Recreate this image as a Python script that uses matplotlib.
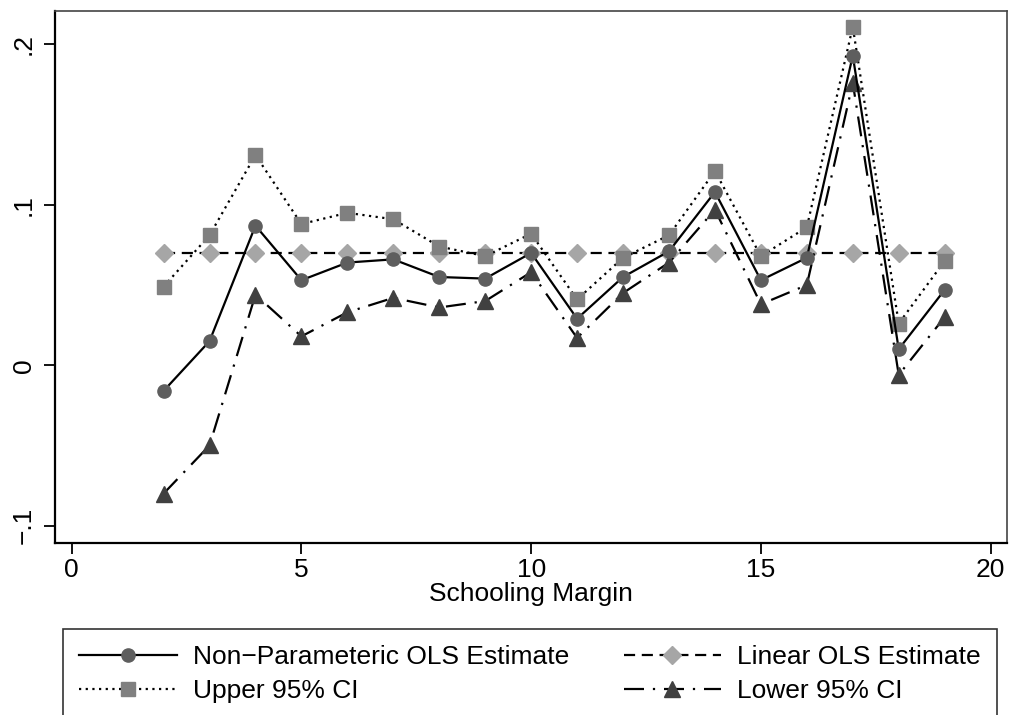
import numpy as np
import matplotlib
matplotlib.use("Agg")
import matplotlib.pyplot as plt

# Data
margin = [2, 3, 4, 5, 6, 7, 8, 9, 10, 11, 12, 13, 14, 15, 16, 17, 18, 19]
nonparam = [-0.016, 0.015, 0.087, 0.053, 0.064, 0.066, 0.055, 0.054, 0.070, 0.029,
            0.055, 0.071, 0.108, 0.053, 0.067, 0.193, 0.010, 0.047]
upper_ci = [0.049, 0.081, 0.131, 0.088, 0.095, 0.091, 0.074, 0.068, 0.082, 0.041,
            0.067, 0.081, 0.121, 0.068, 0.086, 0.211, 0.026, 0.065]
lower_ci = [-0.080, -0.050, 0.044, 0.018, 0.033, 0.042, 0.036, 0.040, 0.058, 0.017,
            0.045, 0.064, 0.097, 0.038, 0.050, 0.176, -0.006, 0.030]
linear = [0.070] * len(margin)

xticks = [0, 5, 10, 15, 20]
yticks = [-0.1, 0, 0.1, 0.2]
yticklabels = ["\u2212.1", "0", ".1", ".2"]

plt.rcParams["font.family"] = ["Liberation Sans", "DejaVu Sans"]
FS = 19

W, H = 1010, 715
fig = plt.figure(figsize=(W / 100, H / 100), dpi=100)
ax = fig.add_axes([55 / W, 1 - 543 / H, (1006.7 - 55) / W, (543 - 11) / H])

ms = 9.5
ax.plot(margin, linear, color="black", lw=1.6, dashes=(5, 3),
        marker="D", markersize=ms, markerfacecolor="#a6a6a6",
        markeredgecolor="#a6a6a6", label="Linear OLS Estimate", zorder=2)
ax.plot(margin, upper_ci, color="black", lw=1.6, dashes=(1, 2),
        marker="s", markersize=ms, markerfacecolor="#808080",
        markeredgecolor="#808080", label="Upper 95% CI", zorder=3)
ax.plot(margin, lower_ci, color="black", lw=1.6, dashes=(9, 4, 1, 4),
        marker="^", markersize=ms * 1.15, markerfacecolor="#404040",
        markeredgecolor="#404040", label="Lower 95% CI", zorder=3)
ax.plot(margin, nonparam, color="black", lw=1.6, linestyle="-",
        marker="o", markersize=ms, markerfacecolor="#5e5e5e",
        markeredgecolor="#5e5e5e", label="Non\u2212Parameteric OLS Estimate", zorder=4)

ax.set_xlim(-0.363, 20.35)
ax.set_ylim(-0.1108, 0.2208)
ax.set_xticks(xticks)
ax.set_yticks(yticks)
ax.set_yticklabels(yticklabels, rotation=90, va="center")
ax.tick_params(axis="both", labelsize=FS, length=8, width=1.3, direction="out")
ax.tick_params(axis="x", pad=3)
ax.tick_params(axis="y", pad=6)
ax.set_xlabel("Schooling Margin", fontsize=FS, labelpad=0)

for side in ["left", "bottom"]:
    ax.spines[side].set_linewidth(1.6)
    ax.spines[side].set_color("black")
for side in ["top", "right"]:
    ax.spines[side].set_linewidth(1.2)
    ax.spines[side].set_color("#444444")

handles, labels = ax.get_legend_handles_labels()
# column-major fill: col 1 = non-param, upper; col 2 = linear, lower
order = [3, 1, 0, 2]
handles = [handles[i] for i in order]
labels = [labels[i] for i in order]
top = 1 - 629 / H
leg = fig.legend(handles, labels, ncol=2, loc="upper left",
                 bbox_to_anchor=(63 / W, top - 0.3, (997 - 63) / W, 0.3),
                 mode="expand", fontsize=FS, frameon=True, fancybox=False,
                 handlelength=3.7, handletextpad=0.6, labelspacing=0.38,
                 borderpad=0.62, borderaxespad=0, columnspacing=2.0)
leg.get_frame().set_edgecolor("black")
leg.get_frame().set_linewidth(1.2)

fig.savefig("out.png", dpi=100, facecolor="white")
